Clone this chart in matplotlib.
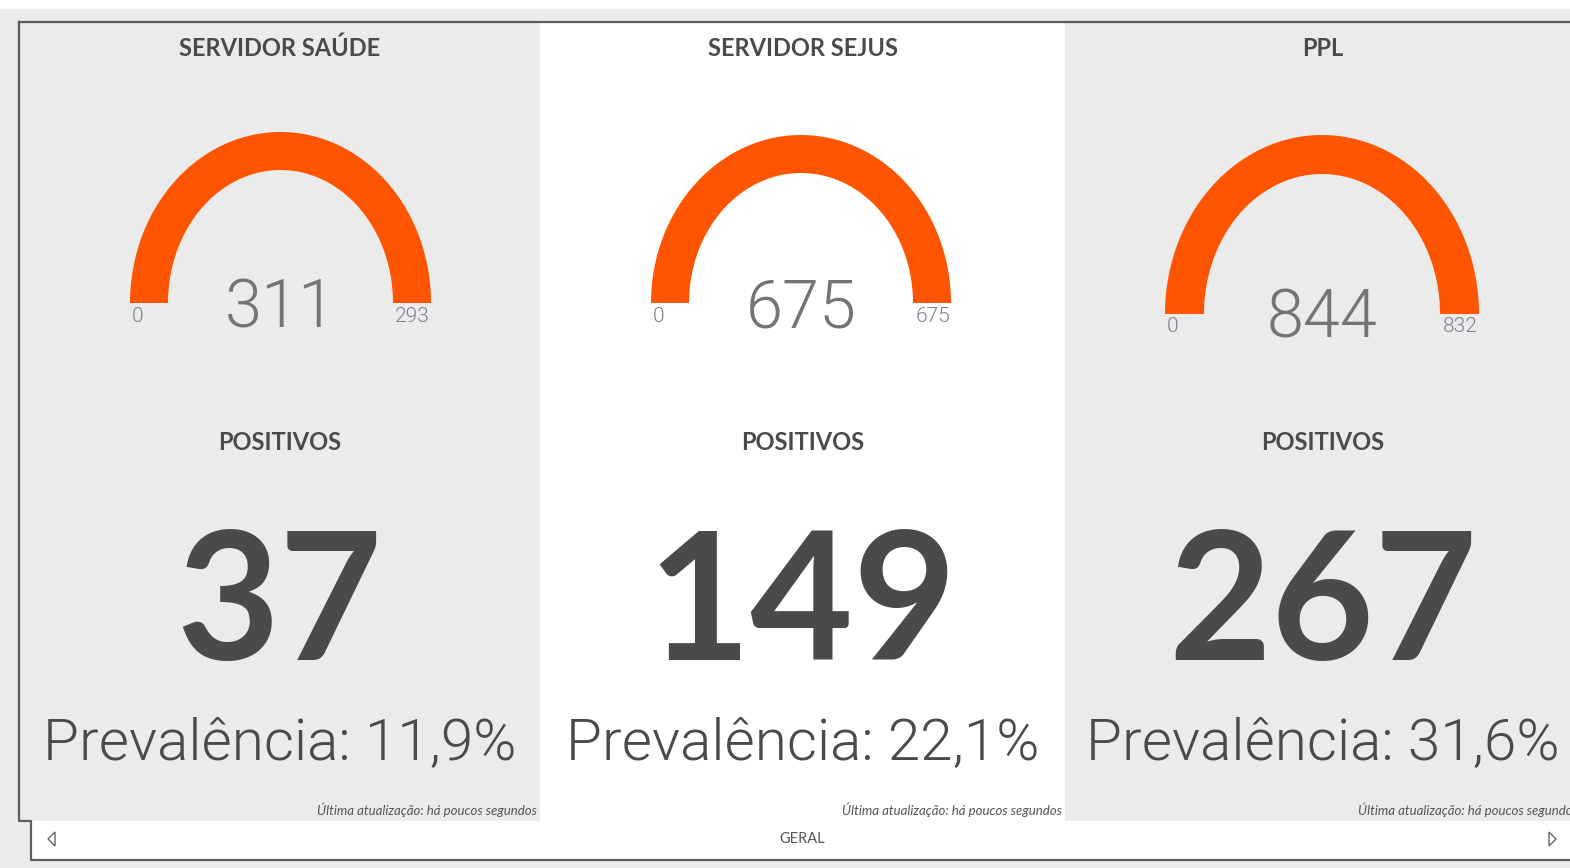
import numpy as np
import matplotlib
matplotlib.use("Agg")
import matplotlib.pyplot as plt
from matplotlib.patches import Polygon, Rectangle

# dados dos painéis
titulos = ["SERVIDOR SAÚDE", "SERVIDOR SEJUS", "PPL"]
testados = [311, 675, 844]
meta_max = [293, 675, 832]
positivos = [37, 149, 267]
prevalencia = ["11,9%", "22,1%", "31,6%"]
rodape = "Última atualização: há poucos segundos"
aba = "GERAL"

W, H = 1570, 868
fig = plt.figure(figsize=(W / 100, H / 100), dpi=100)
ax = fig.add_axes([0, 0, 1, 1])
ax.set_xlim(0, W)
ax.set_ylim(H, 0)
ax.axis("off")

CINZA = "#ebebeb"
LARANJA = "#ff5500"
ESCURO = "#4a4a4a"
MEDIO = "#747474"
LINHA = "#5c5c5c"
fonte = ["Lato", "DejaVu Sans"]
fina = ["Roboto", "DejaVu Sans"]

# fundo
ax.add_patch(Rectangle((0, 9), W, H - 9, color=CINZA, zorder=0))

# paineis (x0, x1, cor)
paineis = [(19, 540, CINZA), (540, 1065, "white"), (1065, 1582, CINZA)]
# geometria dos medidores: centro x, base y, semi-eixo a, semi-eixo b, espessura
geo = [(280.5, 303, 150.5, 171, 38), (801, 303, 150, 168, 38), (1322, 314, 157, 179, 39)]

for i, (x0, x1, cor) in enumerate(paineis):
    ax.add_patch(Rectangle((x0, 22), x1 - x0, 799, color=cor, zorder=1))
    cx = (x0 + x1) / 2
    if i == 2:
        cx = 1323
    ax.text(cx, 48, titulos[i], ha="center", va="center", fontsize=17,
            fontweight="bold", color=ESCURO, family=fonte, zorder=3)

    gx, gy, a, b, t = geo[i]
    frac = min(testados[i] / meta_max[i], 1.0)
    th = np.linspace(np.pi, np.pi - np.pi * frac, 200)
    outer = np.column_stack([gx + a * np.cos(th), gy - b * np.sin(th)])
    inner = np.column_stack([gx + (a - t) * np.cos(th[::-1]), gy - (b - t) * np.sin(th[::-1])])
    ax.add_patch(Polygon(np.vstack([outer, inner]), closed=True, color=LARANJA, lw=0, zorder=2))

    ax.text(gx, gy + 6, str(testados[i]), ha="center", va="center", fontsize=48,
            fontweight=300, color=MEDIO, family=fina, zorder=3)
    ax.text(gx - a + 2, gy + 13, "0", ha="left", va="center", fontsize=15,
            fontweight=300, color="#7a8290", family=fina, zorder=3)
    ax.text(gx + a - 1, gy + 13, str(meta_max[i]), ha="right", va="center", fontsize=15,
            fontweight=300, color="#7a8290", family=fina, zorder=3)

    ax.text(cx, 442, "POSITIVOS", ha="center", va="center", fontsize=17,
            fontweight="bold", color=ESCURO, family=fonte, zorder=3)
    ax.text(cx, 609, str(positivos[i]), ha="center", va="center", fontsize=128,
            fontweight="bold", color=ESCURO, family=fonte, zorder=3)
    ax.text(cx, 745, "Prevalência: " + prevalencia[i], ha="center", va="center", fontsize=42,
            fontweight=300, color=ESCURO, family=fina, zorder=3)
    ax.text(min(x1 - 3, 1578), 810, rodape, ha="right", va="center", fontsize=9.5,
            style="italic", color="#555555", family=fonte, zorder=3)

# barra inferior
ax.add_patch(Rectangle((31, 821), W - 31, 39, color="white", zorder=1))
ax.plot([19, W], [22, 22], color=LINHA, lw=1.6, zorder=4)
ax.plot([19, 19, 31, 31, W], [22, 821, 821, 860, 860], color=LINHA, lw=1.6, zorder=4)
ax.text(802, 839, aba, ha="center", va="center", fontsize=10.5, color="#555555",
        family=fonte, zorder=3)
ax.add_patch(Polygon([[55, 832], [55, 846], [48, 839]], closed=True, fill=False,
                     ec="#666666", lw=1, zorder=3))
ax.add_patch(Polygon([[1549, 832], [1549, 846], [1556, 839]], closed=True, fill=False,
                     ec="#666666", lw=1, zorder=3))

fig.savefig("out.png", dpi=100)
